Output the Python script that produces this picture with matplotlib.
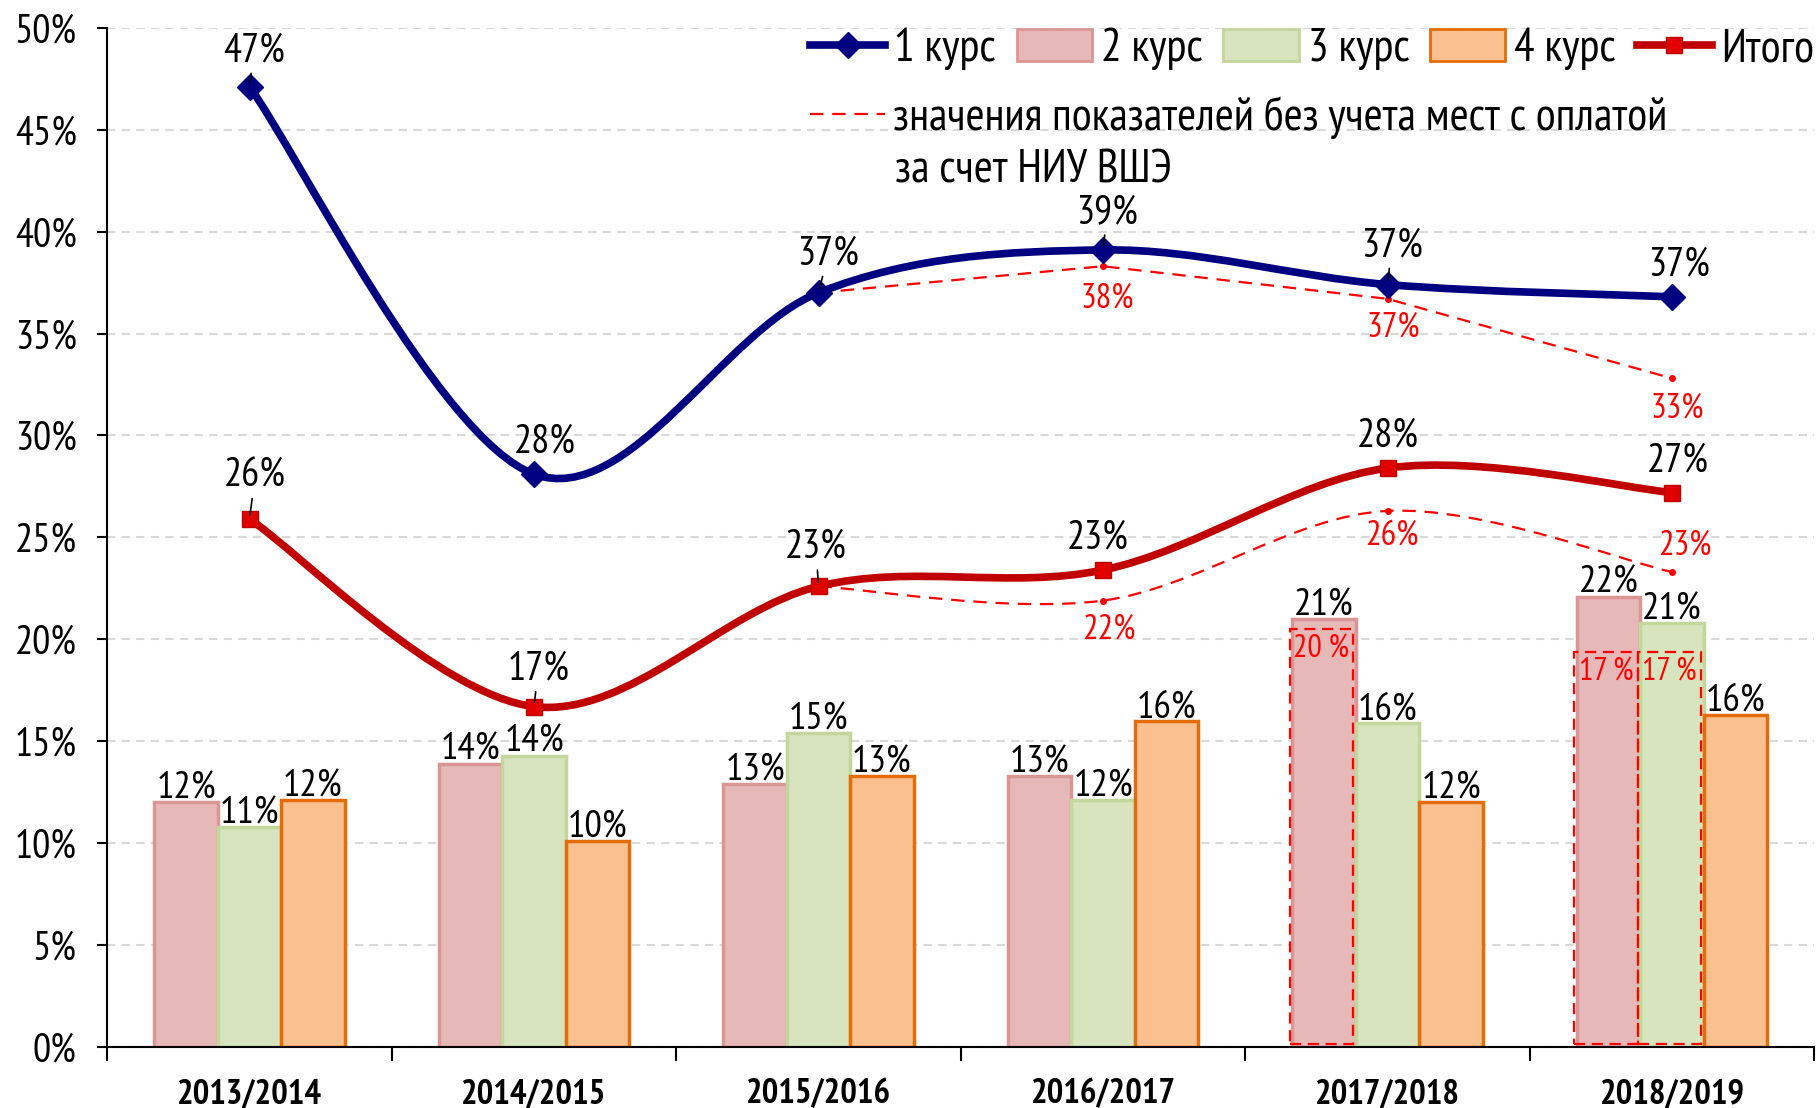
import numpy as np
import matplotlib
matplotlib.use('Agg')
import matplotlib.pyplot as plt
from matplotlib.path import Path
from matplotlib.patches import PathPatch, Patch, Rectangle
from matplotlib.lines import Line2D
import logging

logging.getLogger('matplotlib.font_manager').setLevel(logging.ERROR)
plt.rcParams['font.family'] = ['PT Sans Narrow', 'Roboto Condensed', 'Liberation Sans Narrow', 'DejaVu Sans']

# ── данные ──
years = ['2013/2014', '2014/2015', '2015/2016', '2016/2017', '2017/2018', '2018/2019']
kurs1 = [47.1, 28.1, 37.0, 39.1, 37.4, 36.8]
itogo = [25.9, 16.7, 22.6, 23.4, 28.4, 27.2]
kurs2 = [12.0, 13.9, 12.9, 13.3, 21.0, 22.1]
kurs3 = [10.8, 14.3, 15.4, 12.1, 15.9, 20.8]
kurs4 = [12.1, 10.1, 13.3, 16.0, 12.0, 16.3]
# без учета мест с оплатой за счет НИУ ВШЭ (с 2015/2016)
kurs1_adj = [37.0, 38.3, 36.7, 32.8]
itogo_adj = [22.6, 21.9, 26.3, 23.3]
# пунктирные рамки на столбцах
box_year = [4, 5, 5]
box_course = [0, 0, 1]          # 0 = 2 курс, 1 = 3 курс
box_height = [20.5, 19.4, 19.4]
box_label = ['20 %', '17 %', '17 %']

navy = '#000080'
dred = '#C00000'
red = '#FF0000'


def smooth_path(xs, ys):
    """сглаженная линия как в Excel (кривые Безье)"""
    pts = np.column_stack([xs, ys]).astype(float)
    ext = np.vstack([pts[0], pts, pts[-1]])
    verts = [pts[0]]
    codes = [Path.MOVETO]
    for i in range(len(pts) - 1):
        p0, p1, p2, p3 = ext[i], ext[i + 1], ext[i + 2], ext[i + 3]
        verts += [p1 + (p2 - p0) / 6, p2 - (p3 - p1) / 6, p2]
        codes += [Path.CURVE4] * 3
    return Path(verts, codes)


fig = plt.figure(figsize=(18.18, 11.08), dpi=100)
ax = fig.add_axes([0.059, 0.055, 0.939, 0.92])

x = np.arange(len(years))
w = 0.223
ax.bar(x - w, kurs2, w, color='#E6B8B7', edgecolor='#D99694', linewidth=2.5, zorder=2)
ax.bar(x, kurs3, w, color='#D7E4BD', edgecolor='#C3D69B', linewidth=2.5, zorder=2)
ax.bar(x + w, kurs4, w, color='#FAC090', edgecolor='#E46C0A', linewidth=2.5, zorder=2)

for vals, off in [(kurs2, -w), (kurs3, 0), (kurs4, w)]:
    for xi, v in zip(x, vals):
        ax.annotate(f'{v:.0f}%', (xi + off, v), xytext=(0, -3), textcoords='offset points',
                    ha='center', va='bottom', fontsize=28, zorder=5)

for yi, ci, hh, lab in zip(box_year, box_course, box_height, box_label):
    bx = yi + (ci - 1) * w - w / 2 - 0.01
    ax.add_patch(Rectangle((bx, 0.15), w, hh - 0.15, fill=False, edgecolor=red,
                           linestyle=(0, (5, 3)), linewidth=1.6, zorder=4))
    ax.annotate(lab, (bx + w / 2, hh), xytext=(0, -15), textcoords='offset points',
                ha='center', va='center', color=red, fontsize=23, zorder=5)

# пунктирные линии
xa = x[2:]
ax.plot(xa, kurs1_adj, color=red, lw=1.6, ls=(0, (6, 4)), zorder=3)
ax.plot(xa, kurs1_adj, 'o', color=red, ms=4, zorder=3)
ax.add_patch(PathPatch(smooth_path(xa, itogo_adj), fill=False, edgecolor=red,
                       lw=1.6, ls=(0, (6, 4)), zorder=3))
ax.plot(xa, itogo_adj, 'o', color=red, ms=4, zorder=3)

# основные линии
ax.add_patch(PathPatch(smooth_path(x, kurs1), fill=False, edgecolor=navy, lw=5.5,
                       capstyle='round', zorder=6))
ax.plot(x, kurs1, 'D', color=navy, ms=13, zorder=7)
ax.add_patch(PathPatch(smooth_path(x, itogo), fill=False, edgecolor=dred, lw=5.5,
                       capstyle='round', zorder=6))
ax.plot(x, itogo, 's', color='#E00000', mec=dred, ms=11, zorder=7)

# подписи (сдвиг в pt) и выноски
k1_off = [(3, 26), (8, 23), (7, 28), (3, 27), (3, 28), (5, 23)]
it_off = [(4, 31), (3, 27), (-2, 28), (-4, 23), (0, 23), (4, 23)]
k1_lead = [True, False, True, True, True, False]
it_lead = [True, True, True, False, False, False]
for vals, offs, leads in [(kurs1, k1_off, k1_lead), (itogo, it_off, it_lead)]:
    for xi, v, o, ld in zip(x, vals, offs, leads):
        arr = dict(arrowstyle='-', color='black', lw=1.2, shrinkA=1, shrinkB=3) if ld else None
        ax.annotate(f'{v:.0f}%', (xi, v), xytext=o, textcoords='offset points',
                    ha='center', va='center', fontsize=29, zorder=8, arrowprops=arr)

k1a_off = [None, (3, -23), (4, -21), (4, -22)]
ita_off = [None, (4, -21), (3, -18), (9, 19)]
for vals, offs in [(kurs1_adj, k1a_off), (itogo_adj, ita_off)]:
    for xi, v, o in zip(xa, vals, offs):
        if o:
            ax.annotate(f'{v:.0f}%', (xi, v), xytext=o, textcoords='offset points',
                        ha='center', va='center', fontsize=25, color=red, zorder=8)

# оси
ax.set_xlim(-0.5, 5.5)
ax.set_ylim(0, 50)
ax.set_yticks(np.arange(0, 51, 5))
ax.set_yticklabels([f'{v}%' for v in range(0, 51, 5)], fontsize=29)
ax.set_xticks(x)
ax.set_xticklabels(years, fontsize=25, fontweight='bold')
ax.set_xticks(np.arange(-0.5, 6, 1), minor=True)
ax.tick_params(axis='x', which='major', length=0, pad=22)
ax.tick_params(axis='x', which='minor', length=10, width=1.5, direction='out')
ax.tick_params(axis='y', length=7, width=1.5, pad=15)
ax.yaxis.grid(True, linestyle=(0, (4, 3)), color='#D9D9D9', linewidth=1.5)
ax.set_axisbelow(True)
for s in ['top', 'right']:
    ax.spines[s].set_visible(False)
ax.spines['left'].set_linewidth(1.5)
ax.spines['bottom'].set_linewidth(1.5)

# легенда
handles = [
    Line2D([], [], color=navy, lw=5.5, marker='D', ms=13),
    Patch(fc='#E6B8B7', ec='#D99694', lw=2),
    Patch(fc='#D7E4BD', ec='#C3D69B', lw=2),
    Patch(fc='#FAC090', ec='#E46C0A', lw=2),
    Line2D([], [], color=dred, lw=5.5, marker='s', ms=11, mfc='#E00000'),
]
leg1 = ax.legend(handles, ['1 курс', '2 курс', '3 курс', '4 курс', 'Итого'], ncol=5,
                 loc='center left', bbox_to_anchor=(0.4455, 0.956), bbox_transform=fig.transFigure,
                 frameon=False, fontsize=33, handlelength=1.64, handletextpad=0.2,
                 columnspacing=0.45, borderpad=0, borderaxespad=0, numpoints=1)
ax.add_artist(leg1)
ax.legend([Line2D([], [], color=red, lw=1.6, ls=(0, (6, 4)))],
          ['значения показателей без учета мест с оплатой'],
          loc='center left', bbox_to_anchor=(0.4455, 0.894), bbox_transform=fig.transFigure,
          frameon=False, fontsize=33, handlelength=1.64, handletextpad=0.17,
          borderpad=0, borderaxespad=0)
fig.text(0.4922, 0.846, 'за счет НИУ ВШЭ', fontsize=33, ha='left', va='center')

plt.savefig('out.png', dpi=100)
plt.close()
